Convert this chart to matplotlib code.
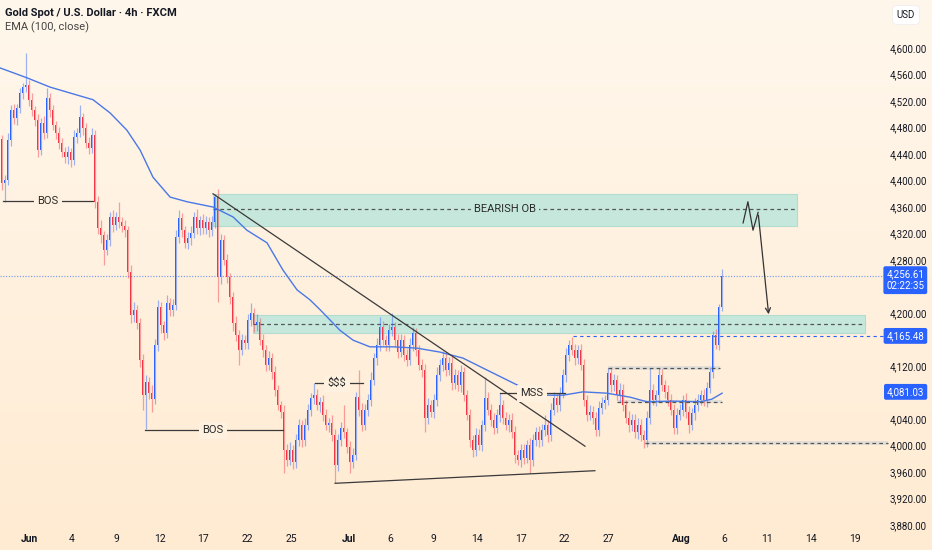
import numpy as np
import matplotlib.pyplot as plt
from matplotlib.colors import LinearSegmentedColormap

plt.rcParams['font.family'] = ['Liberation Sans Narrow', 'Roboto', 'DejaVu Sans']

# 4h candles (closes; open = previous close)
first_open = 4462
closes = [
    4396, 4401, 4461, 4506, 4494, 4509, 4532, 4541, 4544, 4522, 4506, 4491, 4446, 4487, 4472, 4525, 4506, 4484, 4472, 4457,
    4443, 4435, 4443, 4431, 4466, 4472, 4496, 4479, 4457, 4449, 4469, 4368, 4328, 4318, 4295, 4310, 4345, 4333, 4345, 4337,
    4331, 4325, 4262, 4197, 4205, 4185, 4129, 4076, 4096, 4080, 4070, 4152, 4209, 4182, 4170, 4215, 4205, 4212, 4315, 4343,
    4325, 4306, 4313, 4321, 4345, 4328, 4340, 4328, 4337, 4325, 4337, 4375, 4254, 4310, 4280, 4254, 4224, 4185, 4167, 4144,
    4159, 4155, 4189, 4200, 4182, 4186, 4159, 4144, 4122, 4132, 4111, 4084, 4061, 4051, 3993, 3978, 3993, 3975, 4008, 4031,
    4008, 4031, 4054, 4072, 4076, 4061, 4066, 4046, 4031, 4034, 4016, 3971, 4008, 4027, 4020, 3998, 3975, 3986, 4073, 4054,
    4031, 4054, 4069, 4099, 4132, 4152, 4179, 4159, 4152, 4174, 4179, 4159, 4141, 4159, 4137, 4129, 4152, 4170, 4144, 4122,
    4114, 4042, 4061, 4051, 4069, 4106, 4122, 4132, 4114, 4125, 4094, 4106, 4091, 4111, 4076, 4046, 4008, 3993, 4016, 4001,
    4031, 4072, 4054, 4039, 4027, 4046, 4061, 4042, 4031, 4039, 4020, 3986, 3978, 3993, 3981, 4001, 3978, 4008, 4020, 4008,
    4023, 4031, 4016, 4054, 4072, 4061, 4079, 4106, 4137, 4152, 4144, 4132, 4144, 4122, 4069, 4046, 4051, 4042, 4023, 4057,
    4064, 4069, 4109, 4091, 4099, 4076, 4084, 4061, 4042, 4031, 4039, 4020, 4031, 4016, 4008, 4042, 4084, 4069, 4076, 4106,
    4091, 4081, 4069, 4054, 4027, 4046, 4054, 4069, 4051, 4031, 4049, 4061, 4069, 4076, 4069, 4087, 4111, 4167, 4152, 4209,
    4256.61,
]
wick_up = [
    6, 8, 10, 8, 9, 7, 8, 6, 48, 8, 10, 6, 9, 8, 10, 15, 7, 8, 6, 9,
    7, 8, 9, 6, 10, 8, 18, 6, 8, 9, 10, 7, 8, 12, 6, 9, 8, 10, 7, 23,
    8, 9, 6, 10, 12, 7, 8, 9, 10, 8, 12, 9, 10, 8, 6, 12, 8, 9, 10, 12,
    8, 6, 9, 10, 8, 12, 7, 9, 10, 8, 9, 5, 12, 10, 8, 9, 6, 8, 10, 7,
    9, 8, 10, 15, 8, 12, 7, 9, 8, 10, 7, 9, 8, 6, 10, 9, 12, 8, 10, 9,
    8, 10, 9, 8, 18, 9, 8, 10, 9, 8, 12, 9, 10, 8, 34, 7, 9, 10, 8, 41,
    10, 8, 9, 12, 8, 10, 15, 9, 8, 10, 21, 8, 9, 10, 8, 9, 10, 9, 8, 7,
    8, 9, 10, 8, 9, 12, 8, 10, 9, 8, 10, 9, 8, 10, 7, 8, 9, 8, 10, 9,
    8, 31, 9, 8, 10, 9, 18, 8, 9, 8, 10, 9, 8, 10, 9, 8, 10, 9, 8, 10,
    9, 15, 8, 10, 9, 8, 10, 9, 10, 8, 12, 9, 8, 10, 9, 8, 10, 9, 8, 10,
    9, 8, 8, 10, 9, 8, 10, 9, 8, 10, 9, 8, 10, 9, 8, 10, 33, 9, 8, 11,
    9, 8, 10, 9, 8, 10, 9, 8, 10, 9, 8, 10, 9, 8, 10, 9, 8, 6, 9, 5,
    10,
]
wick_dn = [
    10, 28, 8, 9, 8, 10, 7, 9, 8, 10, 8, 9, 10, 8, 9, 8, 10, 8, 9, 10,
    8, 9, 10, 11, 8, 9, 7, 10, 8, 9, 8, 10, 9, 12, 23, 8, 9, 10, 8, 9,
    8, 10, 9, 12, 10, 9, 10, 22, 51, 10, 20, 8, 9, 12, 10, 8, 9, 10, 8, 9,
    10, 8, 9, 10, 8, 9, 10, 8, 9, 10, 8, 9, 37, 10, 8, 9, 10, 12, 9, 22,
    8, 10, 9, 8, 10, 9, 8, 10, 9, 8, 10, 9, 8, 10, 34, 9, 8, 10, 9, 8,
    10, 9, 8, 10, 9, 8, 10, 9, 8, 10, 9, 28, 10, 8, 9, 10, 16, 9, 8, 10,
    9, 8, 10, 9, 8, 10, 9, 8, 10, 9, 8, 10, 9, 8, 10, 9, 8, 10, 9, 8,
    10, 22, 9, 8, 10, 9, 8, 10, 9, 8, 10, 9, 8, 10, 9, 8, 10, 10, 9, 8,
    10, 9, 8, 10, 9, 8, 10, 9, 8, 10, 9, 12, 8, 10, 9, 8, 19, 9, 8, 10,
    9, 8, 10, 9, 8, 10, 9, 8, 10, 9, 8, 10, 9, 8, 10, 9, 8, 10, 9, 8,
    10, 9, 8, 10, 9, 8, 10, 9, 8, 10, 9, 8, 10, 9, 12, 10, 9, 8, 10, 9,
    8, 10, 9, 8, 10, 9, 8, 10, 9, 12, 8, 10, 9, 8, 10, 11, 8, 9, 7, 8,
    6,
]

# EMA(100) line (bar index, price)
ema_x = [-0.5, 8.5, 16.2, 25.2, 30.5, 36.2, 41.8, 46.2, 50.5, 56.2, 61.8, 70.5, 77.2, 81.8, 88.5, 93.8,
         98.5, 102.8, 106.2, 112.8, 117.2, 122.8, 130.5, 138.5, 146.2, 153.8, 161.8, 168.5, 175.2,
         181.8, 187.2, 193.8, 201.8, 209.5, 215.2, 223.8, 232.8, 236.8, 240.2]
ema_y = [4570, 4555, 4541, 4529, 4522, 4502, 4476, 4446, 4405, 4375, 4368, 4360, 4345, 4325, 4306, 4265,
         4235, 4220, 4205, 4174, 4159, 4149, 4149, 4147, 4141, 4132, 4114, 4099, 4084,
         4076, 4076, 4081, 4079, 4073, 4066, 4067, 4066, 4070, 4079]

price_ticks = [3880, 3920, 3960, 4000, 4040, 4120, 4200, 4280, 4320, 4360, 4400, 4440, 4480, 4520, 4560, 4600]
date_pos = [9.2, 23.5, 38.2, 52.8, 67.2, 81.8, 96.5, 115.8, 129.5, 143.8, 158.5, 173.2, 187.5, 202.2,
            226.5, 240.8, 255.2, 269.8, 284.5]
date_lbl = ['Jun', '4', '9', '12', '17', '22', '25', 'Jul', '6', '9', '14', '17', '22', '27',
            'Aug', '6', '11', '14', '19']

UP, DN = '#2962FF', '#F23645'
INK = '#131722'

fig = plt.figure(figsize=(9.32, 5.5), dpi=100)

# peach gradient background
bg = fig.add_axes([0, 0, 1, 1], zorder=-5)
cmap = LinearSegmentedColormap.from_list('bg', ['#FFF7EC', '#FFEBD2'])
bg.imshow(np.linspace(0, 1, 256).reshape(-1, 1), cmap=cmap, aspect='auto', extent=[0, 1, 0, 1])
bg.axis('off')

ax = fig.add_axes([0, 20 / 550, 870 / 932, 530 / 550])
ax.set_facecolor('none')
for s in ax.spines.values():
    s.set_visible(False)
ax.set_xlim(-0.5, 289.5)
ax.set_ylim(3872.5, 4672.5)

closes = np.array(closes, dtype=float)
opens = np.concatenate([[first_open], closes[:-1]])
idx = np.arange(len(closes))
highs = np.maximum(opens, closes) + np.array(wick_up)
lows = np.minimum(opens, closes) - np.array(wick_dn)
up = closes >= opens
cols = np.where(up, UP, DN)

ax.vlines(idx, lows, highs, colors=cols, lw=0.9, alpha=0.45, zorder=3)
ax.bar(idx, np.maximum(np.abs(closes - opens), 1.5), bottom=np.minimum(opens, closes),
       width=0.62, color=cols, lw=0, zorder=4)

ax.plot(ema_x, ema_y, color='#4A78E6', lw=1.0, zorder=5)

# order blocks
ob_col, ob_edge = '#C6E8DC', '#B3DBCE'
ax.fill_between([70.5, 265.2], 4331, 4380, color=ob_col, ec=ob_edge, lw=0.8, zorder=1)
ax.plot([70.5, 265.2], [4357, 4357], color='#555555', lw=0.9, ls=(0, (3, 2.5)), zorder=2)
ax.text(167.8, 4357, 'BEARISH OB', ha='center', va='center', fontsize=8, color='#2A2A2A', zorder=6,
        bbox=dict(boxstyle='square,pad=0.25', fc=ob_col, ec='none'))
ax.fill_between([83.8, 287.8], 4170, 4197, color=ob_col, ec=ob_edge, lw=0.8, zorder=1)
ax.plot([83.8, 287.8], [4183, 4183], color='#555555', lw=0.9, ls=(0, (3, 2.5)), zorder=2)

# trend lines
ax.plot([70.5, 194.5], [4380, 3999], color='#3A3A3A', lw=0.9, zorder=6)
ax.plot([111.2, 197.8], [3943, 3962], color='#3A3A3A', lw=0.9, zorder=6)

# structure labels
def level(x0, x1, y, label, xt):
    ax.plot([x0, x1], [y, y], color='#3A3A3A', lw=0.9, zorder=6)
    ax.text(xt, y, label, ha='center', va='center', fontsize=8, color='#2A2A2A', zorder=7,
            bbox=dict(boxstyle='square,pad=0.3', fc='#FFF1DF', ec='none'))

level(0.5, 30.5, 4369, 'BOS', 15.5)
level(47.8, 93.8, 4023, 'BOS', 70.5)
level(104.5, 120.5, 4094, '\\$\\$\\$', 111.8)
level(166.2, 187.8, 4079, 'MSS', 176.8)

# consolidation range
for x0, x1, y in [(202.2, 239.5, 4117), (205.2, 240.2, 4066), (214.5, 295.5, 4004)]:
    ax.fill_between([x0, x1], y - 2.5, y + 2.5, color='#D6D8D8', alpha=0.7, lw=0, zorder=2, clip_on=False)
    ax.plot([x0, x1], [y, y], color='#555555', lw=0.9, ls=(0, (3, 2.5)), zorder=6, clip_on=False)

# price lines
ax.plot([-0.5, 296], [4256.61, 4256.61], color='#6E95F2', lw=0.8, ls=(0, (1, 1.5)), zorder=2, clip_on=False)
ax.plot([190.5, 296], [4165.48, 4165.48], color='#2962FF', lw=0.8, ls=(0, (3, 3)), zorder=2, clip_on=False)

# projected path
ax.plot([247.2, 248.8, 250.5, 252.2], [4336, 4368, 4325, 4352], color='#333333', lw=0.9, zorder=7)
ax.annotate('', xy=(255.8, 4194), xytext=(252.2, 4352),
            arrowprops=dict(arrowstyle='->', color='#333333', lw=0.9, mutation_scale=9), zorder=7)

# axes
ax.yaxis.tick_right()
ax.set_yticks(price_ticks)
ax.set_yticklabels([f'{p:,.2f}' for p in price_ticks], fontsize=7, color=INK)
ax.tick_params(axis='y', length=0, pad=41)
for t in ax.get_yticklabels():
    t.set_horizontalalignment('right')
ax.set_xticks(date_pos)
ax.set_xticklabels(date_lbl, fontsize=7.5, color=INK)
for t in ax.get_xticklabels():
    if t.get_text() in ('Jun', 'Jul', 'Aug'):
        t.set_fontweight('bold')
ax.tick_params(axis='x', length=0, pad=3)

# price tags on the scale
for p, txt in [(4256.61, '4,256.61\n02:22:35'), (4165.48, '4,165.48'), (4081.03, '4,081.03')]:
    ax.text(307.6, p if '\n' not in txt else p - 7, txt, ha='right', va='center', fontsize=7, color='white',
            linespacing=1.25, zorder=9, clip_on=False,
            bbox=dict(boxstyle='round,pad=0.3,rounding_size=0.2', fc='#2962FF', ec='none'))

fig.text(5 / 932, 1 - 13 / 550, 'Gold Spot / U.S. Dollar · 4h · FXCM', fontsize=8, fontweight='bold',
         color=INK, va='center')
fig.text(5 / 932, 1 - 27 / 550, 'EMA (100, close)', fontsize=8, color='#444444', va='center')
fig.text(906 / 932, 1 - 15 / 550, 'USD', fontsize=7, color=INK, ha='center', va='center',
         bbox=dict(boxstyle='round,pad=0.45', fc='white', ec='#EEEEEE', lw=0.6))

fig.savefig('out.png', dpi=100)
